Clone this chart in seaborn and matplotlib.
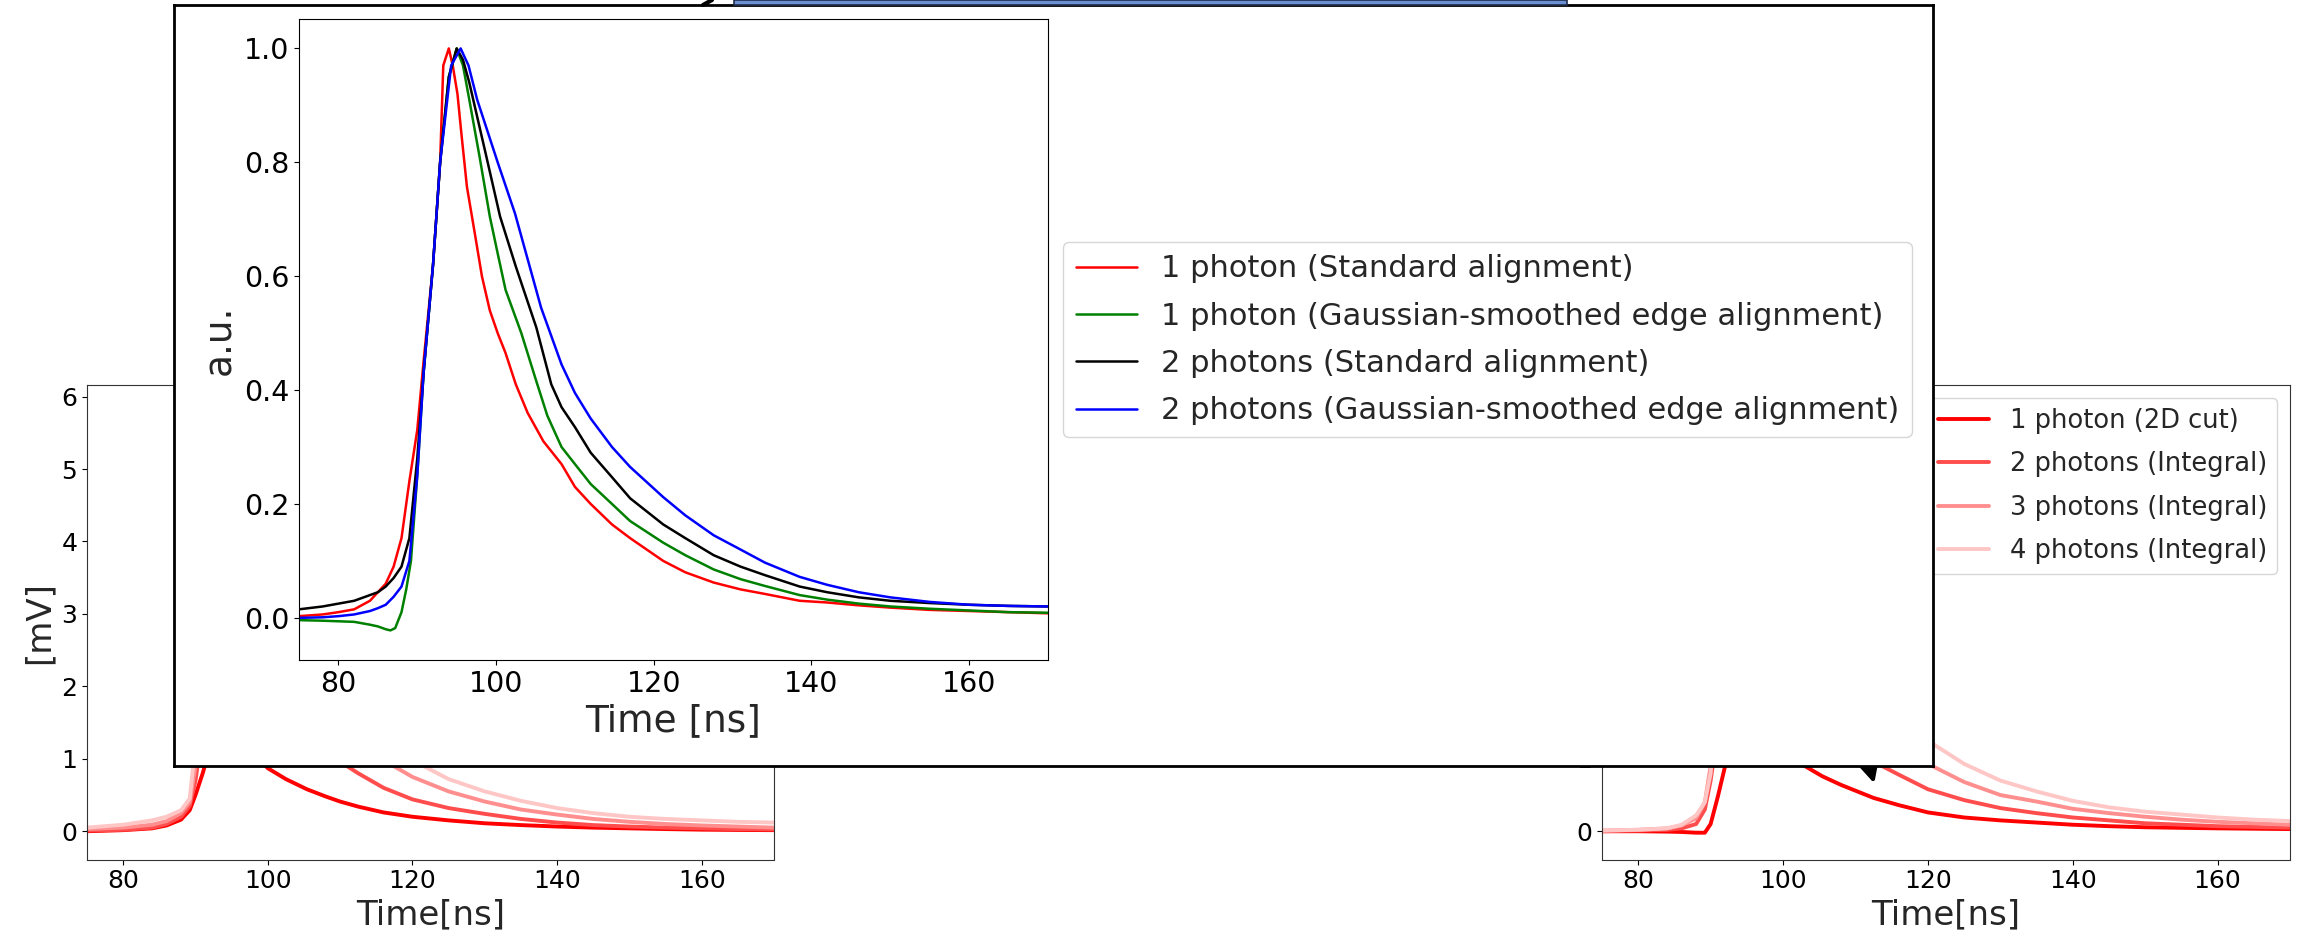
import matplotlib
matplotlib.use("Agg")
import matplotlib.pyplot as plt
import seaborn as sns
from matplotlib.patches import Rectangle
from matplotlib.lines import Line2D

sns.set_style("ticks")
plt.rcParams['font.family'] = ['DejaVu Sans']

# ---- background plots (mV), both on the same time grid ----
t_bg = [75, 80, 84, 86, 88, 89.2, 90, 91, 92, 93, 94, 95, 96, 98, 100, 102.5, 105.4, 108,
        110, 112.5, 116, 120, 125, 130, 135, 140, 145, 150, 155, 160, 165, 170]

left_1 = [0.0, 0.015, 0.04, 0.08, 0.16, 0.29, 0.5, 0.8, 1.15, 1.36, 1.45, 1.42, 1.33, 1.08, 0.87, 0.72,
          0.58, 0.48, 0.41, 0.34, 0.26, 0.2, 0.15, 0.11, 0.085, 0.065, 0.05, 0.04, 0.03, 0.022, 0.018, 0.015]
left_2 = [0.01, 0.02, 0.05, 0.1, 0.2, 0.35, 0.7, 1.4, 2.1, 2.6, 2.85, 2.9, 2.82, 2.45, 2.05, 1.7,
          1.38, 1.12, 0.96, 0.8, 0.6, 0.44, 0.32, 0.24, 0.17, 0.12, 0.085, 0.065, 0.05, 0.04, 0.03, 0.025]
left_3 = [0.03, 0.05, 0.09, 0.14, 0.25, 0.4, 0.9, 1.9, 3.0, 3.8, 4.2, 4.3, 4.22, 3.8, 3.3, 2.75,
          2.25, 1.85, 1.6, 1.32, 0.98, 0.75, 0.55, 0.41, 0.3, 0.23, 0.17, 0.13, 0.1, 0.08, 0.065, 0.05]
left_4 = [0.05, 0.09, 0.15, 0.2, 0.29, 0.45, 1.2, 2.6, 4.0, 5.1, 5.65, 5.85, 5.75, 5.25, 4.6, 3.9,
          3.2, 2.65, 2.3, 1.85, 1.35, 0.98, 0.72, 0.55, 0.42, 0.32, 0.25, 0.2, 0.17, 0.15, 0.13, 0.12]

right_1 = [0.0, 0.0, -0.005, -0.01, -0.02, -0.02, 0.1, 0.48, 0.9, 1.2, 1.38, 1.42, 1.38, 1.22, 1.08, 0.93,
           0.76, 0.64, 0.56, 0.46, 0.36, 0.26, 0.19, 0.15, 0.12, 0.09, 0.07, 0.055, 0.047, 0.04, 0.035, 0.03]
right_2 = [0.0, 0.01, 0.02, 0.04, 0.1, 0.3, 0.7, 1.4, 2.1, 2.55, 2.75, 2.8, 2.75, 2.5, 2.2, 1.85,
           1.5, 1.25, 1.1, 0.96, 0.78, 0.58, 0.43, 0.32, 0.25, 0.19, 0.15, 0.11, 0.09, 0.07, 0.06, 0.05]
right_3 = [0.01, 0.02, 0.04, 0.08, 0.18, 0.4, 0.9, 1.9, 3.0, 3.8, 4.2, 4.3, 4.2, 3.8, 3.3, 2.75,
           2.2, 1.8, 1.55, 1.3, 1.07, 0.93, 0.68, 0.5, 0.41, 0.31, 0.25, 0.2, 0.16, 0.13, 0.11, 0.09]
right_4 = [0.01, 0.02, 0.04, 0.09, 0.22, 0.4, 0.8, 2.0, 3.6, 4.9, 5.6, 5.85, 5.75, 5.3, 4.7, 4.0,
           3.3, 2.7, 2.35, 1.95, 1.55, 1.25, 0.93, 0.7, 0.55, 0.42, 0.33, 0.27, 0.23, 0.19, 0.16, 0.14]

bg_labels = ["1 photon (2D cut)", "2 photons (Integral)", "3 photons (Integral)", "4 photons (Integral)"]
bg_colors = ["#ff0000", "#ff4d4d", "#ff8f8f", "#ffc6c6"]

# ---- inset (normalised) ----
t_red = [75, 78, 80, 82, 84, 85, 86, 87, 88, 89, 90, 90.8, 92, 92.9, 93.3, 94, 94.5, 95.1, 95.6, 96.3,
         97.3, 98.2, 99.2, 100.2, 101.2, 102.5, 104, 106, 108.3, 110, 112, 114.7, 117, 121.2, 124,
         127.6, 131, 134.1, 138.5, 142, 146, 150, 155, 160, 165, 170]
v_red = [0.003, 0.006, 0.01, 0.015, 0.03, 0.045, 0.06, 0.09, 0.14, 0.24, 0.33, 0.45, 0.62, 0.80, 0.97,
         1.0, 0.97, 0.92, 0.85, 0.757, 0.675, 0.6, 0.54, 0.50, 0.465, 0.41, 0.36, 0.31, 0.27, 0.23,
         0.2, 0.164, 0.14, 0.10, 0.08, 0.062, 0.05, 0.042, 0.03, 0.027, 0.022, 0.018, 0.014, 0.012, 0.01, 0.008]

t_green = [75, 78, 80, 82, 84, 85, 86, 86.6, 87.2, 88, 88.6, 89.2, 90, 90.8, 92, 92.9, 94, 95, 95.8,
           96.6, 97.9, 99.2, 100.2, 101.2, 103.2, 105, 106.5, 108.3, 110, 112, 114.7, 117, 121.2, 124,
           127.6, 131, 134.1, 138.5, 142, 146, 150, 155, 160, 165, 170]
v_green = [-0.004, -0.005, -0.006, -0.007, -0.012, -0.015, -0.02, -0.022, -0.018, 0.01, 0.05, 0.1,
           0.25, 0.43, 0.62, 0.80, 0.95, 1.0, 0.97, 0.91, 0.81, 0.705, 0.64, 0.576, 0.5, 0.42, 0.355,
           0.30, 0.27, 0.235, 0.2, 0.17, 0.132, 0.11, 0.085, 0.068, 0.056, 0.04, 0.032, 0.025, 0.02,
           0.016, 0.013, 0.01, 0.009]

t_black = [75, 78, 80, 82, 84, 85, 86, 87, 88, 89, 90, 90.8, 92, 92.9, 94, 95, 95.8, 96.6, 98.6, 100.5,
           102.5, 105.1, 107, 108.3, 110, 112, 114.7, 117, 121.2, 124, 127.6, 131, 134.1, 138.5, 142,
           146, 150, 155, 160, 165, 170]
v_black = [0.015, 0.02, 0.025, 0.03, 0.04, 0.045, 0.055, 0.07, 0.09, 0.14, 0.28, 0.43, 0.62, 0.80, 0.95,
           1.0, 0.98, 0.94, 0.82, 0.705, 0.617, 0.51, 0.41, 0.37, 0.335, 0.29, 0.247, 0.21, 0.164, 0.14,
           0.11, 0.09, 0.075, 0.055, 0.045, 0.036, 0.03, 0.026, 0.023, 0.021, 0.02]

t_blue = [75, 78, 80, 82, 84, 85, 86, 87, 88, 89, 90, 90.8, 92, 92.9, 94.3, 95.5, 96.5, 97.6, 100.2,
          102.4, 105.7, 108.3, 110, 112, 114.7, 117, 121.2, 124, 127.6, 131, 134.1, 138.5, 142, 146,
          150, 155, 160, 165, 170]
v_blue = [0.0, 0.001, 0.003, 0.006, 0.012, 0.017, 0.023, 0.037, 0.055, 0.1, 0.25, 0.43, 0.62, 0.80,
          0.97, 1.0, 0.97, 0.91, 0.80, 0.71, 0.545, 0.445, 0.395, 0.35, 0.30, 0.265, 0.212, 0.18, 0.145,
          0.12, 0.097, 0.072, 0.058, 0.045, 0.036, 0.028, 0.023, 0.021, 0.02]

inset_labels = ["1 photon (Standard alignment)", "1 photon (Gaussian-smoothed edge alignment)",
                "2 photons (Standard alignment)", "2 photons (Gaussian-smoothed edge alignment)"]
inset_colors = ["red", "green", "black", "blue"]

W, H = 2303, 943


def box(left, top, right, bottom):
    # pixel box (from top-left) -> figure fraction rect
    return [left / W, 1 - bottom / H, (right - left) / W, (bottom - top) / H]


fig = plt.figure(figsize=(W / 100, H / 100), dpi=100)

ax_l = fig.add_axes(box(87, 385, 774, 859.5))
ax_r = fig.add_axes(box(1602, 385, 2290, 859.5))
for ax, curves in ((ax_l, [left_1, left_2, left_3, left_4]), (ax_r, [right_1, right_2, right_3, right_4])):
    for vals, lab, col in zip(curves, bg_labels, bg_colors):
        sns.lineplot(x=t_bg, y=vals, ax=ax, color=col, lw=2.8, label=lab, legend=False, estimator=None)
    ax.set_xlim(75, 170)
    ax.set_ylim(-0.39, 6.16)
    ax.set_xticks([80, 100, 120, 140, 160])
    ax.tick_params(labelsize=18, colors='black')
    ax.set_xlabel("Time[ns]", fontsize=24.5)
    ax.set_ylabel("[mV]", fontsize=24.5)
    for s in ax.spines.values():
        s.set_color('#333333')
ax_r.legend(loc='upper right', fontsize=18.5, labelspacing=0.67)

# arrow whose head pokes out under the overlay
ax_r.annotate("", xy=(1875, H - 786), xycoords='figure pixels',
              xytext=(1845, H - 680), textcoords='figure pixels',
              arrowprops=dict(arrowstyle='-|>', color='black', lw=3, mutation_scale=35))

# overlay panel
ax_box = fig.add_axes(box(174, 5, 1933, 766))
ax_box.set_xticks([])
ax_box.set_yticks([])
for s in ax_box.spines.values():
    s.set_color('black')
    s.set_linewidth(2)

ax_in = fig.add_axes(box(299, 19.4, 1048, 660))
for tt, vv, lab, col in zip([t_red, t_green, t_black, t_blue], [v_red, v_green, v_black, v_blue],
                            inset_labels, inset_colors):
    sns.lineplot(x=tt, y=vv, ax=ax_in, color=col, lw=1.8, label=lab, legend=False, estimator=None)
ax_in.set_xlim(75, 170)
ax_in.set_ylim(-0.074, 1.051)
ax_in.set_xticks([80, 100, 120, 140, 160])
ax_in.set_yticks([0.0, 0.2, 0.4, 0.6, 0.8, 1.0])
ax_in.tick_params(labelsize=20.5, colors='black')
ax_in.set_xlabel("Time [ns]", fontsize=27)
ax_in.set_ylabel("a.u.", fontsize=27)
for s in ax_in.spines.values():
    s.set_color('black')
ax_in.legend(loc='center left', bbox_to_anchor=(1.0, 0.5), fontsize=22, labelspacing=0.6)

# slivers of other slide elements at the top edge
fig.add_artist(Rectangle((734 / W, 1 - 5 / H), 833 / W, 5 / H, transform=fig.transFigure,
                         facecolor='#6a8fd2', edgecolor='#1f2d4a', lw=1.2, zorder=5))
fig.add_artist(Line2D([703 / W, 712 / W], [1 - 5 / H, 1.0], transform=fig.transFigure,
                      color='black', lw=3, zorder=5))

fig.savefig("out.png", dpi=100)
